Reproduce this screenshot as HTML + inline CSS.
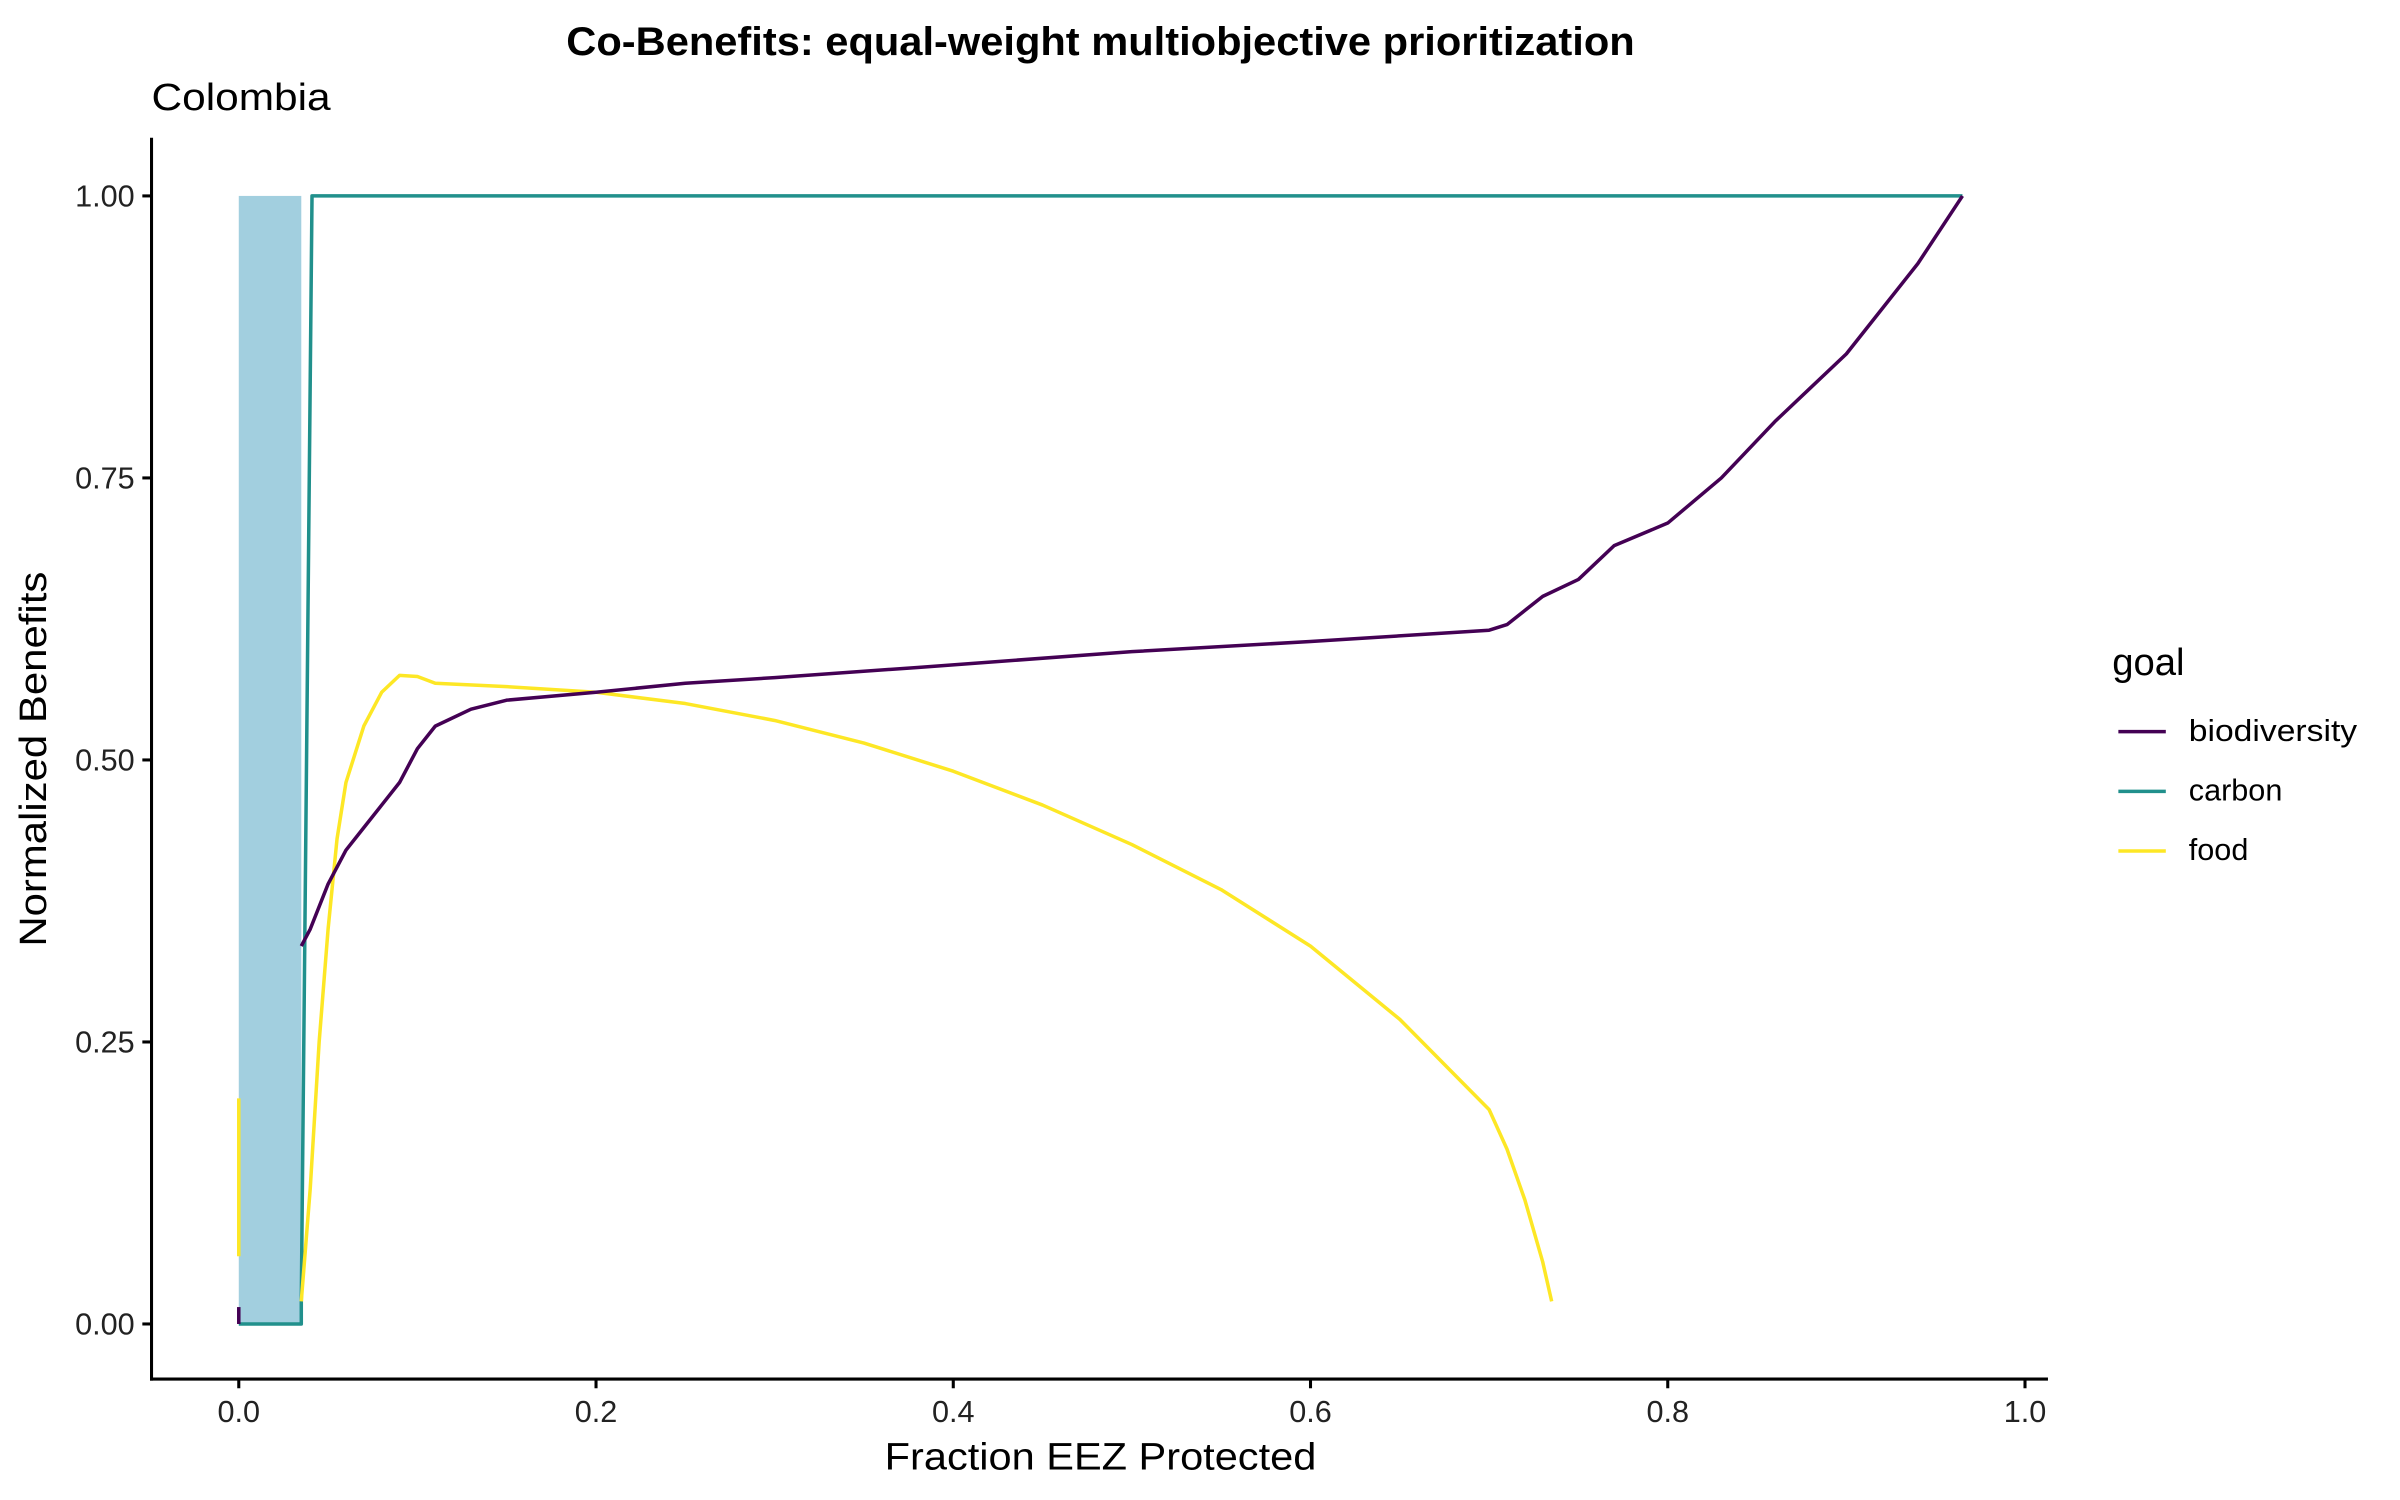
<!DOCTYPE html>
<html><head><meta charset="utf-8"><style>html,body{margin:0;padding:0;background:#fff}svg{display:block}text{font-family:"Liberation Sans",sans-serif}</style></head>
<body>
<svg id="chart" width="2400" height="1500" viewBox="0 0 1568 980" xmlns="http://www.w3.org/2000/svg">
<text x="719" y="36" font-size="26" font-weight="bold" text-anchor="middle" textLength="698" lengthAdjust="spacingAndGlyphs">Co-Benefits: equal-weight multiobjective prioritization</text>
<text x="99" y="72" font-size="25" textLength="117" lengthAdjust="spacingAndGlyphs">Colombia</text>
<g id="plot"></g>
<line x1="99" y1="90" x2="99" y2="902" stroke="#000" stroke-width="2"/>
<line x1="98" y1="901" x2="1338" y2="901" stroke="#000" stroke-width="2"/>
<g id="ticks"></g>
<text x="719" y="960" font-size="25" text-anchor="middle" textLength="282" lengthAdjust="spacingAndGlyphs">Fraction EEZ Protected</text>
<text transform="translate(30,496) rotate(-90)" font-size="25" text-anchor="middle" textLength="245" lengthAdjust="spacingAndGlyphs">Normalized Benefits</text>
<g>
<text x="1380" y="441" font-size="25">goal</text>
<line x1="1384" y1="478" x2="1415" y2="478" stroke="#440154" stroke-width="2.3"/>
<text x="1430" y="484" font-size="20" textLength="110" lengthAdjust="spacingAndGlyphs">biodiversity</text>
<line x1="1384" y1="517" x2="1415" y2="517" stroke="#21908C" stroke-width="2.3"/>
<text x="1430" y="523" font-size="20">carbon</text>
<line x1="1384" y1="556" x2="1415" y2="556" stroke="#FDE725" stroke-width="2.3"/>
<text x="1430" y="562" font-size="20">food</text>
</g>
</svg>
<script>
const xTicks = [0, 0.2, 0.4, 0.6, 0.8, 1.0];
const xTickLabels = ["0.0", "0.2", "0.4", "0.6", "0.8", "1.0"];
const yTicks = [0, 0.25, 0.5, 0.75, 1.0];
const yTickLabels = ["0.00", "0.25", "0.50", "0.75", "1.00"];
const highlightRange = [0, 0.035];
const biodivStubX = [0, 0];
const biodivStubY = [0, 0.015];
const biodivX = [0.035,0.04,0.05,0.06,0.07,0.08,0.09,0.1,0.11,0.13,0.15,0.2,0.25,0.3,0.38,0.5,0.6,0.7,0.71,0.73,0.75,0.77,0.8,0.83,0.86,0.88,0.9,0.92,0.94,0.965];
const biodivY = [0.335,0.35,0.39,0.42,0.44,0.46,0.48,0.51,0.53,0.545,0.553,0.56,0.568,0.573,0.582,0.596,0.605,0.615,0.62,0.645,0.66,0.69,0.71,0.75,0.8,0.83,0.86,0.9,0.94,1.0];
const carbonX = [0, 0.035, 0.035, 0.041, 0.965];
const carbonY = [0, 0, 0.02, 1, 1];
const foodX = [0.035,0.04,0.045,0.05,0.055,0.06,0.07,0.08,0.09,0.1,0.11,0.15,0.2,0.25,0.3,0.35,0.4,0.45,0.5,0.55,0.6,0.65,0.7,0.71,0.72,0.73,0.735];
const foodY = [0.02,0.12,0.25,0.35,0.43,0.48,0.53,0.56,0.575,0.574,0.568,0.565,0.56,0.55,0.535,0.515,0.49,0.46,0.425,0.385,0.335,0.27,0.19,0.155,0.11,0.055,0.02];
const foodStubX = [0, 0];
const foodStubY = [0.06, 0.2];

const NS = "http://www.w3.org/2000/svg";
const sx = v => 156 + v * 1167;
const sy = v => 865 - v * 737;
const plot = document.getElementById('plot');
const ticks = document.getElementById('ticks');
function mk(tag, attrs, parent) {
  const e = document.createElementNS(NS, tag);
  for (const k in attrs) e.setAttribute(k, attrs[k]);
  parent.appendChild(e);
  return e;
}
const rect = mk('rect', {x: sx(highlightRange[0]), y: sy(1), width: sx(highlightRange[1]) - sx(highlightRange[0]), height: sy(0) - sy(1), fill: '#A2CFDF'}, plot);


function line(xs, ys, color, name) {
  const d = xs.map((x, i) => (i ? 'L' : 'M') + sx(x).toFixed(2) + ',' + sy(ys[i]).toFixed(2)).join(' ');
  const p = mk('path', {d: d, fill: 'none', stroke: color, 'stroke-width': 2.3, 'stroke-linejoin': 'round'}, plot);
  
  
}
line(carbonX, carbonY, '#21908C', 'carbon-line');
line(foodStubX, foodStubY, '#FDE725', 'food-line-start');
line(foodX, foodY, '#FDE725', 'food-line');
line(biodivStubX, biodivStubY, '#440154', 'biodiversity-line-start');
line(biodivX, biodivY, '#440154', 'biodiversity-line');
xTicks.forEach((v, i) => {
  const t = mk('line', {x1: sx(v), x2: sx(v), y1: 901, y2: 907, stroke: '#000', 'stroke-width': 2}, ticks);
  
  
  const l = mk('text', {x: sx(v), y: 929, 'font-size': 20, 'text-anchor': 'middle', fill: '#222'}, ticks);
  
  
  l.textContent = xTickLabels[i];
});
yTicks.forEach((v, i) => {
  const t = mk('line', {x1: 93, x2: 99, y1: sy(v), y2: sy(v), stroke: '#000', 'stroke-width': 2}, ticks);
  
  
  const l = mk('text', {x: 88, y: sy(v) + 7, 'font-size': 20, 'text-anchor': 'end', fill: '#222'}, ticks);
  
  
  l.textContent = yTickLabels[i];
});
</script>
</body></html>
